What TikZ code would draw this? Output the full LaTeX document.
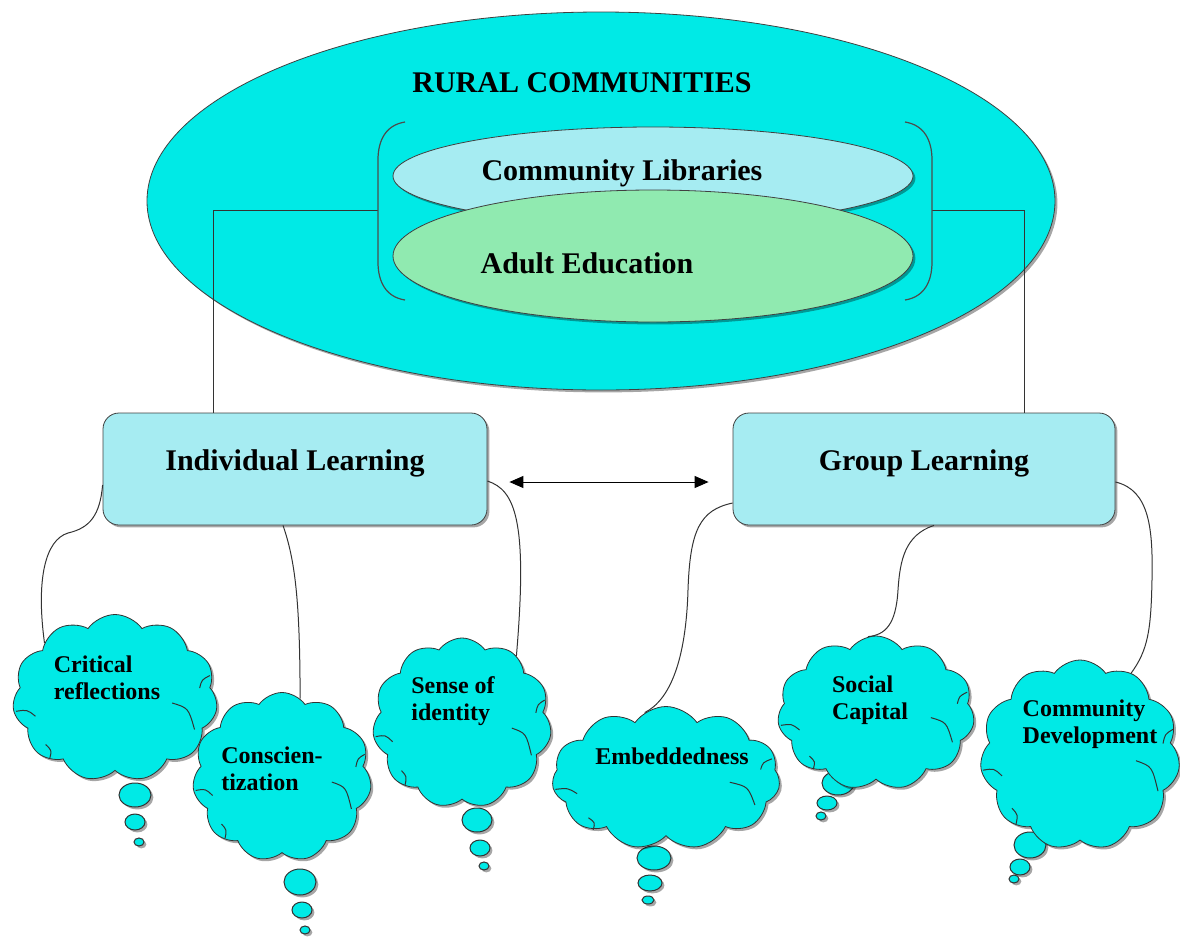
\documentclass[tikz,border=0pt]{standalone}
\usepackage{fontspec}
\setmainfont{Liberation Serif}
\usetikzlibrary{shapes.geometric,shapes.symbols,shadows,arrows.meta,calc}
\definecolor{cyanfill}{RGB}{0,234,230}
\definecolor{lightbox}{RGB}{166,236,242}
\definecolor{greenfill}{RGB}{144,234,176}
\newcommand\cloudcreases{%
  \draw[crease] (-0.97,0.16) .. controls (-0.86,0.14) .. (-0.78,0.22);
  \draw[crease] (-0.68,0.56) .. controls (-0.62,0.63) .. (-0.64,0.73);
  \draw[crease] (0.56,0.06) .. controls (0.72,0.12) .. (0.78,0.38);
  \draw[crease] (0.93,-0.27) .. controls (0.85,-0.22) .. (0.83,-0.12);
}
\tikzset{
  shad/.style={drop shadow={shadow xshift=1.2pt,shadow yshift=-1.2pt,opacity=0.35,fill=black}},
  conn/.style={draw=black!80,line width=0.5pt},
  lbox/.style={draw=black!75,fill=lightbox,rounded corners=8pt,shad,
    minimum height=56pt,inner sep=0pt},
  oval/.style={ellipse,draw=black!75,shad,inner sep=0pt},
  thought/.style={cloud,cloud puffs=11,cloud puff arc=110,cloud ignores aspect,
    draw=black!80,fill=cyanfill,shad,inner sep=0pt},
  bubble/.style={draw=black!80,fill=cyanfill,line width=0.5pt,shad},
  crease/.style={draw=black!80,line width=0.5pt},
  bracketline/.style={draw=black!70,line width=0.6pt},
  lbl/.style={font=\bfseries\fontsize{15}{17}\selectfont},
  clbl/.style={font=\bfseries\fontsize{12}{13.5}\selectfont,align=left},
}
\begin{document}
\begin{tikzpicture}[x=0.5pt,y=-0.5pt]
\useasboundingbox (0,0) rectangle (1180,938);

% outer ellipse
\node[oval,fill=cyanfill,minimum width=454pt,minimum height=189pt] (rural) at (601,201) {};
\node[lbl] (ruralt) at (582,83) {RURAL COMMUNITIES};

% bracket anchor points
\coordinate (lbr) at (378,210);
\coordinate (rbr) at (932,210);

% boxes
\node[lbox,minimum width=192pt] (il) at (295,469) {};
\node[lbox,minimum width=191pt] (gl) at (924,469) {};
\node[lbl] (ilt) at (295,463) {Individual Learning};
\node[lbl] (glt) at (924,463) {Group Learning};

% connectors from brackets to boxes
\draw[conn] (lbr) -| ($(il.north west)+(111,0)$);
\draw[conn] (rbr) -| ($(gl.north east)+(-91,0)$);

% brackets
\draw[bracketline] (405,122) .. controls (386,125) and (378,140) .. (378,160)
   -- (378,262) .. controls (378,282) and (386,297) .. (405,300);
\draw[bracketline] (905,122) .. controls (924,125) and (932,140) .. (932,160)
   -- (932,262) .. controls (932,282) and (924,297) .. (905,300);

% inner ellipses
\node[oval,fill=lightbox,minimum width=260pt,minimum height=49pt] (libs) at (653,176) {};
\node[oval,fill=greenfill,minimum width=260pt,minimum height=66pt] (adult) at (653,256) {};
\node[lbl] (libst) at (622,173) {Community Libraries};
\node[lbl] (adultt) at (587,263) {Adult Education};

% double arrow
\draw[conn,draw=black,{Triangle[length=7pt,width=6pt]}-{Triangle[length=7pt,width=6pt]},
  shorten <=11pt,shorten >=12pt] ($(il.east)+(0,13)$) -- ($(gl.west)+(0,13)$);

% bubbles (thought tails)
\foreach \cx/\cy/\rx/\ry in {
  135/795/16/12, 135/822/10/8, 139/842/5/4,
  300/882/16/13, 302/910/10/8, 305/930/5/4,
  477/820/15/12, 480/848/10/8, 484/866/5/4,
  654/858/17/12, 650/883/12/8, 648/900/6/4,
  838/783/16/12, 827/803/10/7, 821/816/5/4,
  1030/845/16/13, 1020/867/10/8, 1014/879/5/4}
  \path[bubble] (\cx,\cy) ellipse [x radius=\rx, y radius=\ry];

% clouds
\node[thought,minimum width=102.5pt,minimum height=83.5pt] (cr) at (115,698) {};
\node[thought,minimum width=89.5pt,minimum height=84.5pt] (cz) at (282,777) {};
\node[thought,minimum width=89.5pt,minimum height=85pt] (si) at (462,723) {};
\node[thought,minimum width=114pt,minimum height=71.5pt] (em) at (666,778) {};
\node[thought,minimum width=98.5pt,minimum height=77pt] (sc) at (876,713) {};
\node[thought,minimum width=100pt,minimum height=95pt] (cd) at (1080,755) {};

\begin{scope}[shift={(cr.center)},x=51pt,y=-41.5pt]\cloudcreases\end{scope}
\begin{scope}[shift={(cz.center)},x=44.5pt,y=-42pt]\cloudcreases\end{scope}
\begin{scope}[shift={(si.center)},x=44.5pt,y=-42.5pt]\cloudcreases\end{scope}
\begin{scope}[shift={(em.center)},x=57pt,y=-35.5pt]\cloudcreases\end{scope}
\begin{scope}[shift={(sc.center)},x=49pt,y=-38.5pt]\cloudcreases\end{scope}
\begin{scope}[shift={(cd.center)},x=50pt,y=-47.5pt]\cloudcreases\end{scope}

\node[clbl] (crt) at (107,678) {Critical\\reflections};
\node[clbl] (czt) at (272,769) {Conscien-\\tization};
\node[clbl] (sit) at (453,701) {Sense of\\identity};
\node[clbl] (emt) at (672,756) {Embeddedness};
\node[clbl] (sct) at (870,700) {Social\\Capital};
\node[clbl] (cdt) at (1090,724) {Community\\Development};

% curved connectors
\draw[conn] ($(il.west)+(0,16)$) .. controls (100,515) and (90,528) .. (68,533)
   .. controls (45,540) and (36,580) .. (cr.142);
\draw[conn] ($(il.south)+(-12,0)$) .. controls (295,560) and (300,600) .. (cz.77);
\draw[conn] ($(il.east)+(0,12)$) .. controls (515,490) and (528,520) .. (si.51);
\draw[conn] ($(gl.west)+(0,34)$) .. controls (700,510) and (690,530) .. (688,590)
   .. controls (686,660) and (670,700) .. (em.108);
\draw[conn] ($(gl.south)+(10,0)$) .. controls (905,535) and (900,560) .. (898,590)
   .. controls (896,625) and (885,635) .. (sc.96);
\draw[conn] ($(gl.east)+(0,13)$) .. controls (1150,490) and (1153,530) .. (1152,580)
   .. controls (1151,630) and (1148,650) .. (cd.58);
\end{tikzpicture}
\end{document}
